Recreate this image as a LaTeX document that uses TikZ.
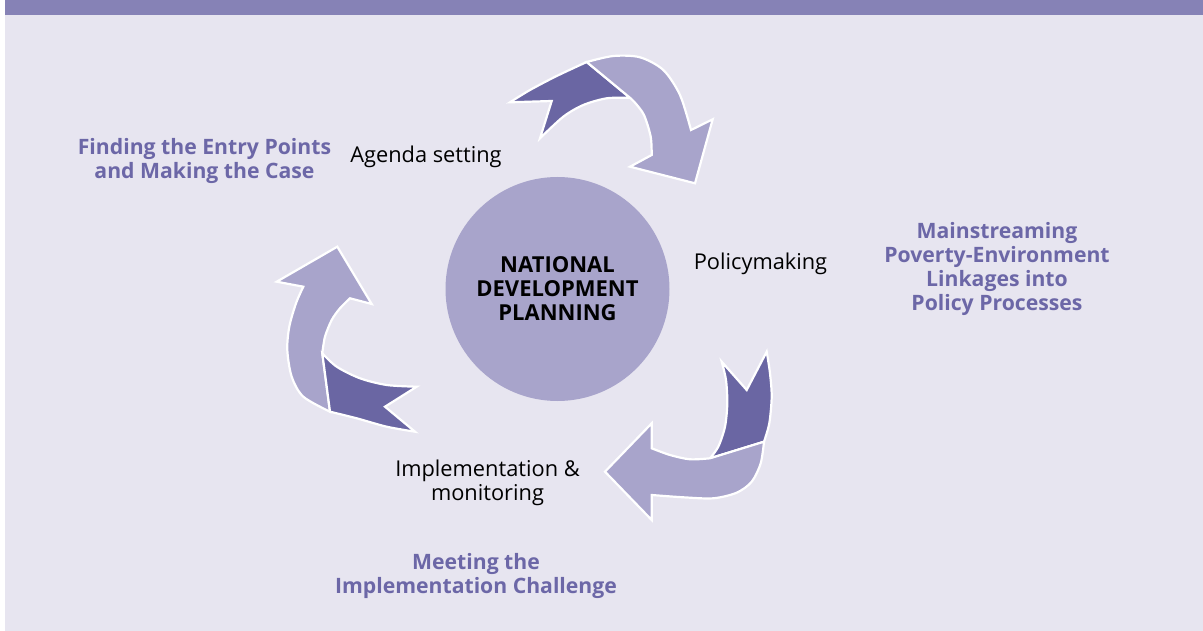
\documentclass[tikz,border=0pt]{standalone}
\usepackage{fontspec}
\setmainfont{Open Sans}
\definecolor{bgc}{HTML}{E7E5F0}
\definecolor{barc}{HTML}{8682B6}
\definecolor{lightc}{HTML}{A8A4CB}
\definecolor{darkc}{HTML}{6A66A3}
\definecolor{labc}{HTML}{6C67A7}
\tikzset{
  lightpart/.style={fill=lightc, draw=white, line width=2.2pt, line join=miter},
  darkpart/.style={fill=darkc, draw=white, line width=2.2pt, line join=miter},
  steplabel/.style={inner sep=0pt, text=black, align=center, font=\fontsize{21.8}{24}\selectfont},
  phaselabel/.style={inner sep=0pt, text=labc, align=center, font=\bfseries\fontsize{21.2}{24}\selectfont},
}
\begin{document}
\begin{tikzpicture}[x=1pt,y=-1pt]
\useasboundingbox (0,0) rectangle (1203,631);
\fill[white] (0,0) rectangle (1203,631);
\fill[bgc] (5,15) rectangle (1203,631);
\fill[barc] (5,0) rectangle (1203,15);

% top arrow
\path[darkpart] plot[smooth] coordinates {(510,102.3) (530,90) (556.7,76) (586.7,62)}
  -- plot[smooth] coordinates {(630,97.8) (606.7,98.3) (583.3,105) (563.3,116.7) (540,138.3)}
  -- (551.7,101) -- cycle;
\path[lightpart] plot[smooth] coordinates {(586.7,62) (613.3,56) (640,57.3) (663.3,70) (680,95) (691,130)}
  -- (712.7,119.3) -- (695,183.3) -- (630,166.7)
  -- plot[smooth] coordinates {(651.7,155) (650.7,136.7) (644,115) (635,102.7) (630,97.8)}
  -- cycle;

% right arrow
\path[darkpart] (721.7,361.7) -- (746.7,390)
  -- plot[smooth] coordinates {(766.7,351.7) (770,373.3) (771.7,396.7) (769.3,423.3) (764,441.7)}
  -- plot[smooth] coordinates {(710,458.3) (718.3,446.7) (725,426.7) (727.3,403.3) (726,380) (721.7,361.7)}
  -- cycle;
\path[lightpart] plot[smooth] coordinates {(764,441.7) (760.7,463.3) (751.7,481.7) (736.7,492.7) (713.3,498.3) (683.3,497.3) (651.7,495)}
  -- (651.7,520) -- (605,471.7) -- (651.7,423.3)
  -- plot[smooth] coordinates {(651.7,448.3) (670,455) (690,459.3) (710,458.3)}
  -- cycle;

% left arrow
\path[lightpart] (337.3,246.7) -- (371.7,304)
  -- plot[smooth] coordinates {(350,298.3) (340,308.3) (331.7,320) (325,336.7) (322.3,353.3)}
  -- plot[smooth] coordinates {(330,411.7) (303.3,396.7) (291.7,376.7) (287.3,350) (289.3,326.7) (296,303.3) (303.3,286.7)}
  -- (276.7,281.7) -- cycle;
\path[darkpart] plot[smooth] coordinates {(322.3,353.3) (336.7,366.7) (360,378.3) (386.7,385) (416.7,386.7)}
  -- (385,406.7)
  -- plot[smooth] coordinates {(415,431.7) (386.7,426.7) (356.7,418.3) (330,411.7)}
  -- cycle;

% centre
\node[circle, fill=lightc, minimum size=224pt, inner sep=0pt, align=center,
      font=\bfseries\fontsize{22}{24}\selectfont] (ndp) at (557.5,289)
      {NATIONAL\\DEVELOPMENT\\PLANNING};

% stage labels
\node[steplabel, anchor=base] (agenda) at (426,163) {Agenda setting};
\node[steplabel, anchor=base] (policy) at (760.5,270) {Policymaking};
\node[steplabel] (implement) at (487.5,483) {Implementation \&\\monitoring};

% phase labels
\node[phaselabel] (entry) at (204.5,160.5) {Finding the Entry Points\\and Making the Case};
\node[phaselabel] (mainstream) at (997,269) {Mainstreaming\\Poverty-Environment\\Linkages into\\Policy Processes};
\node[phaselabel] (meeting) at (476,576) {Meeting the\\Implementation Challenge};
\end{tikzpicture}
\end{document}
